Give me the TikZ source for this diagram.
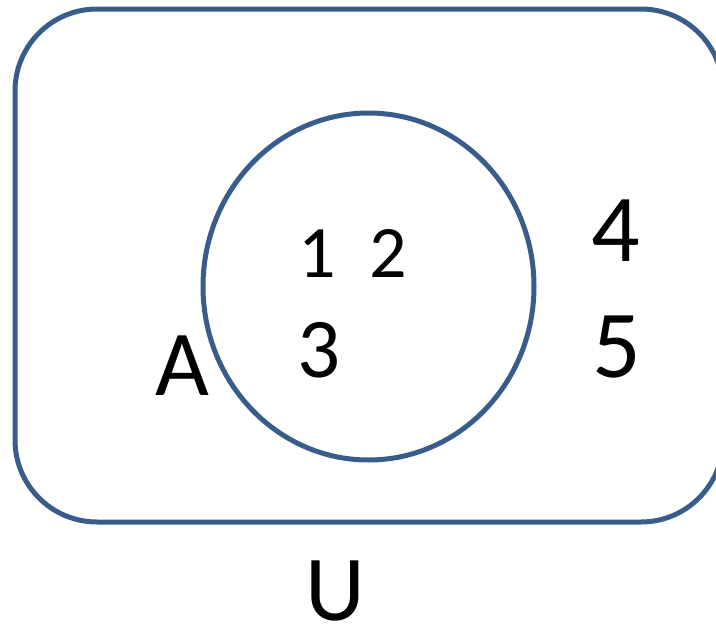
\documentclass[tikz,border=0pt]{standalone}
\usepackage{fontspec}
\setmainfont{Carlito}
\definecolor{setblue}{RGB}{56,93,138}

\begin{document}
\begin{tikzpicture}[x=1pt,y=-1pt,
  setline/.style={line width=5pt,setblue},
  elem/.style={anchor=base,inner sep=0pt}]
\useasboundingbox (0,0) rectangle (716,624);
\clip (0,0) rectangle (716,624);
% universe U
\draw[setline,rounded corners=82pt] (15,9) rectangle (723,522);
% set A
\draw[setline] (368.5,286.5) ellipse (165.5pt and 173.5pt);
% elements of A
\node[elem,font=\fontsize{74}{80}\selectfont] (one) at (317,277) {1};
\node[elem,font=\fontsize{74}{80}\selectfont] (two) at (388,277) {2};
\node[elem,font=\fontsize{85}{90}\selectfont] (three) at (319,377) {3};
% elements outside A
\node[elem,font=\fontsize{96}{100}\selectfont] (four) at (616,261) {4};
\node[elem,font=\fontsize{96}{100}\selectfont] (five) at (617,377) {5};
% labels
\node[elem,font=\fontsize{93}{100}\selectfont] (labA) at (182,395) {A};
\node[elem,font=\fontsize{93}{100}\selectfont] (labU) at (335,620) {U};
\end{tikzpicture}
\end{document}
